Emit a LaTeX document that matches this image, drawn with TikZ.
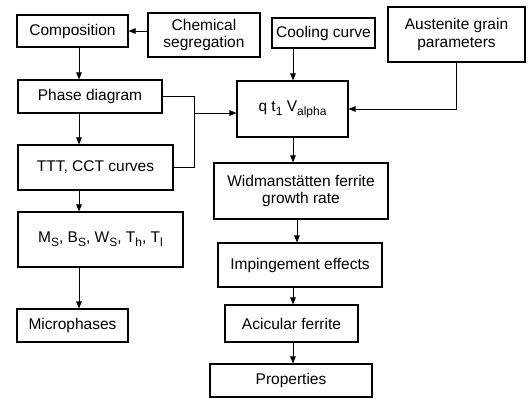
\documentclass[tikz,border=0pt]{standalone}
\usepackage{fontspec}
\setmainfont{Liberation Sans}
\usepackage{tikz}
\usetikzlibrary{arrows.meta}
\newcommand{\lsub}[1]{\raisebox{-0.5ex}{\fontsize{12}{13}\selectfont #1}}

\begin{document}
\begin{tikzpicture}[x=1pt,y=-1pt]
\tikzstyle{every node}+=[inner sep=0pt, font=\fontsize{15.5}{17.5}\selectfont]
\tikzstyle{box}=[draw, line width=1.1pt, align=center]
\tikzstyle{flow}=[line width=1pt, -{Triangle[length=7pt,width=5.5pt]}]
\useasboundingbox (0,0) rectangle (531,399);
% top row
\node [box, minimum width=111pt, minimum height=32pt] (comp) at (72.5,31) {Composition};
\node [box, minimum width=112pt, minimum height=44pt] (chem) at (204,35) {Chemical\\segregation};
\node [box, minimum width=103pt, minimum height=30pt] (cool) at (323.5,33) {Cooling curve};
\node [box, minimum width=137pt, minimum height=55pt] (aust) at (456.5,34.5) {Austenite grain\\parameters};
% left column
\node [box, minimum width=144pt, minimum height=33pt] (phase) at (90,96.5) {Phase diagram};
\node [box, minimum width=155pt, minimum height=45pt] (ttt) at (95.5,167.5) {TTT, CCT curves};
\node [box, minimum width=165pt, minimum height=55pt] (temps) at (100.5,239.5) {M\lsub{S}, B\lsub{S}, W\lsub{S}, T\lsub{h}, T\lsub{l}};
\node [box, minimum width=111pt, minimum height=33pt] (micro) at (72.5,325.5) {Microphases};
% right column
\node [box, minimum width=111pt, minimum height=56pt] (qtv) at (292.5,109) {q t\lsub{1} V\lsub{alpha}};
\node [box, minimum width=174pt, minimum height=56pt] (widm) at (301,191) {Widmanst\"atten ferrite\\growth rate};
\node [box, minimum width=164pt, minimum height=44pt] (imping) at (300,265) {Impingement effects};
\node [box, minimum width=133pt, minimum height=37pt] (acic) at (291.5,323.5) {Acicular ferrite};
\node [box, minimum width=162pt, minimum height=33pt] (props) at (291,380.5) {Properties};
% columns of the vertical arrows
\coordinate (lcol) at (79,0);
\coordinate (rcol) at (293,0);
\coordinate (wcol) at (297,0);
\coordinate (junct) at (194,113);
% arrows
\draw [flow] (chem.west |- comp.east) -- (comp.east);
\draw [flow] (comp.south -| lcol) -- (phase.north -| lcol);
\draw [flow] (phase.south -| lcol) -- (ttt.north -| lcol);
\draw [flow] (ttt.south -| lcol) -- (temps.north -| lcol);
\draw [flow] (temps.south -| lcol) -- (micro.north -| lcol);
\draw [line width=1pt] (phase.east) -| (junct);
\draw [line width=1pt] (ttt.east) -| (junct);
\draw [flow] (junct) -- (junct -| qtv.west);
\draw [flow] (cool.south -| rcol) -- (qtv.north -| rcol);
\draw [flow] (aust.south) |- (qtv.east);
\draw [flow] (qtv.south -| rcol) -- (widm.north -| rcol);
\draw [flow] (widm.south -| wcol) -- (imping.north -| wcol);
\draw [flow] (imping.south -| rcol) -- (acic.north -| rcol);
\draw [flow] (acic.south -| rcol) -- (props.north -| rcol);
\end{tikzpicture}
\end{document}
